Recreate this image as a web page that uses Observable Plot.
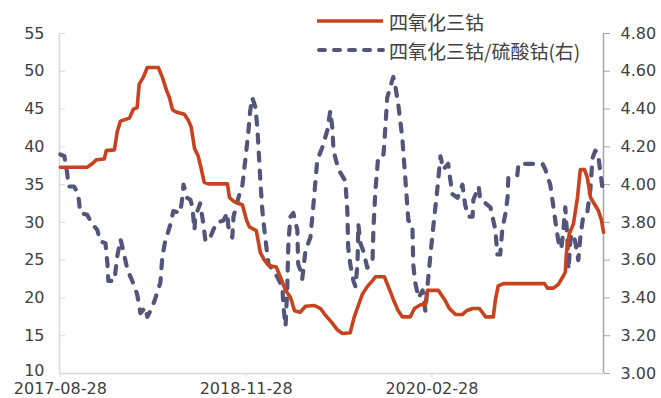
<!DOCTYPE html>
<html>
<head>
<meta charset="utf-8">
<script src="https://cdn.jsdelivr.net/npm/d3@7"></script>
<script src="https://cdn.jsdelivr.net/npm/@observablehq/plot@0.6"></script>
<style>
  html, body { margin: 0; padding: 0; background: #fff; }
  #wrap { position: relative; width: 661px; height: 398px; }
  #legend { position: absolute; left: 0; top: 0; pointer-events: none; }
  #legend text { font-family: "Noto Sans CJK SC", sans-serif; font-size: 19px; fill: #404040; }
</style>
</head>
<body>
<div id="wrap">
  <div id="chart"></div>
  <svg id="legend" width="661" height="398">
    <line x1="317" x2="383" y1="21" y2="21" stroke="#c8421e" stroke-width="3.5"/>
    <text x="389" y="21" dominant-baseline="central">四氧化三钴</text>
    <line x1="319" x2="383" y1="50" y2="50" stroke="#55547a" stroke-width="4" stroke-dasharray="6,9" stroke-linecap="round"/>
    <text x="389" y="50" dominant-baseline="central">四氧化三钴/硫酸钴(右)</text>
  </svg>
</div>
<script>
// 四氧化三钴 (left axis)
const redDates = ["2017-08-28","2017-11-02","2017-11-15","2017-11-25","2017-12-14","2017-12-19","2018-01-08","2018-01-15","2018-01-23","2018-02-14","2018-02-24","2018-03-05","2018-03-10","2018-03-20","2018-03-30","2018-04-26","2018-05-06","2018-05-16","2018-05-23","2018-05-31","2018-06-09","2018-06-29","2018-07-09","2018-07-16","2018-07-24","2018-08-02","2018-08-10","2018-08-17","2018-08-27","2018-10-13","2018-10-18","2018-10-28","2018-11-19","2018-11-29","2018-12-06","2018-12-23","2019-01-02","2019-01-12","2019-01-22","2019-02-10","2019-02-20","2019-03-05","2019-03-17","2019-03-27","2019-04-10","2019-04-23","2019-05-15","2019-05-30","2019-06-11","2019-06-26","2019-07-10","2019-07-23","2019-08-11","2019-08-21","2019-08-31","2019-09-10","2019-09-22","2019-10-05","2019-10-12","2019-11-03","2019-11-15","2019-11-25","2019-12-07","2019-12-17","2020-01-06","2020-01-16","2020-01-31","2020-02-12","2020-02-17","2020-03-15","2020-03-30","2020-04-11","2020-04-26","2020-05-13","2020-05-23","2020-06-07","2020-06-24","2020-07-09","2020-07-28","2020-08-02","2020-08-09","2020-08-22","2020-12-01","2020-12-08","2020-12-23","2021-01-04","2021-01-14","2021-01-21","2021-01-24","2021-01-31","2021-02-10","2021-02-20","2021-02-27","2021-03-09","2021-03-16","2021-03-24","2021-04-03","2021-04-12","2021-04-20","2021-04-25"];
const redValues = [37.3,37.3,37.8,38.3,38.4,39.5,39.6,42.0,43.4,43.8,45.0,45.2,48.3,49.2,50.5,50.5,49.2,47.5,46.6,44.9,44.6,44.3,43.5,42.6,39.8,38.8,37.0,35.3,35.1,35.1,33.3,32.8,32.3,30.3,29.4,28.9,26.0,25.0,24.3,24.1,22.8,21.0,20.1,18.3,18.1,18.9,19.0,18.6,17.7,16.8,15.8,15.3,15.4,17.5,19.0,20.5,21.5,22.3,22.8,22.8,21.2,19.8,18.3,17.5,17.5,18.6,19.1,19.1,21.0,21.0,19.8,18.6,17.8,17.8,18.3,18.6,18.6,17.5,17.5,19.7,21.6,21.9,21.9,21.3,21.3,21.8,22.7,23.4,26.0,28.5,29.8,33.3,37.0,37.0,36.0,33.3,32.4,31.6,30.3,28.7];

// 四氧化三钴/硫酸钴 (right axis)
const blueDates = ["2017-08-28","2017-09-07","2017-09-14","2017-09-17","2017-10-01","2017-10-11","2017-10-16","2017-11-02","2017-11-15","2017-11-27","2017-12-04","2017-12-17","2017-12-22","2017-12-24","2018-01-08","2018-01-15","2018-01-23","2018-01-30","2018-02-09","2018-02-21","2018-03-05","2018-03-13","2018-03-25","2018-03-30","2018-04-11","2018-04-19","2018-05-01","2018-05-06","2018-05-13","2018-05-26","2018-06-02","2018-06-19","2018-06-24","2018-06-27","2018-07-06","2018-07-14","2018-07-19","2018-07-24","2018-07-26","2018-08-07","2018-08-15","2018-08-20","2018-09-01","2018-09-08","2018-09-18","2018-10-03","2018-10-13","2018-10-15","2018-10-25","2018-10-28","2018-11-09","2018-11-19","2018-11-26","2018-12-04","2018-12-08","2018-12-13","2018-12-21","2018-12-26","2019-01-02","2019-01-07","2019-01-14","2019-01-22","2019-02-01","2019-02-13","2019-02-25","2019-02-28","2019-03-05","2019-03-09","2019-03-12","2019-03-17","2019-03-24","2019-04-03","2019-04-05","2019-04-10","2019-04-15","2019-04-23","2019-05-05","2019-05-12","2019-05-22","2019-06-04","2019-06-16","2019-06-23","2019-06-28","2019-07-01","2019-07-13","2019-07-30","2019-08-04","2019-08-06","2019-08-11","2019-08-19","2019-08-24","2019-08-29","2019-08-31","2019-09-05","2019-09-12","2019-09-22","2019-10-05","2019-10-07","2019-10-12","2019-10-19","2019-11-01","2019-11-06","2019-11-10","2019-11-18","2019-11-25","2019-11-30","2019-12-07","2019-12-17","2019-12-25","2020-01-01","2020-01-11","2020-01-13","2020-01-18","2020-01-26","2020-02-05","2020-02-12","2020-02-17","2020-02-24","2020-03-03","2020-03-12","2020-03-20","2020-03-27","2020-04-08","2020-04-18","2020-05-01","2020-05-13","2020-05-20","2020-05-28","2020-06-07","2020-06-09","2020-06-22","2020-06-26","2020-07-04","2020-07-21","2020-07-26","2020-08-02","2020-08-07","2020-08-14","2020-08-19","2020-08-27","2020-09-01","2020-09-03","2020-09-25","2020-09-28","2020-11-26","2020-12-03","2020-12-15","2020-12-23","2020-12-28","2021-01-04","2021-01-11","2021-01-16","2021-01-21","2021-01-26","2021-01-29","2021-02-03","2021-02-10","2021-02-15","2021-02-22","2021-02-27","2021-03-06","2021-03-16","2021-03-24","2021-03-29","2021-04-05","2021-04-12","2021-04-17","2021-04-22","2021-04-25"];
const blueValues = [4.16,4.15,4.06,3.99,3.99,3.95,3.85,3.84,3.79,3.76,3.70,3.69,3.58,3.49,3.49,3.62,3.71,3.65,3.55,3.49,3.42,3.32,3.35,3.30,3.35,3.40,3.48,3.62,3.70,3.79,3.86,3.85,3.93,4.00,3.93,3.92,3.88,3.76,3.83,3.90,3.79,3.70,3.72,3.76,3.80,3.81,3.85,3.78,3.72,3.83,3.93,4.00,4.13,4.29,4.39,4.46,4.41,4.29,4.02,3.86,3.72,3.58,3.55,3.51,3.46,3.35,3.25,3.44,3.69,3.83,3.85,3.76,3.58,3.55,3.50,3.65,3.72,3.88,4.13,4.20,4.29,4.39,4.30,4.18,4.08,4.02,3.86,3.67,3.58,3.49,3.46,3.58,3.79,3.69,3.65,3.56,3.60,3.76,3.97,4.15,4.16,4.32,4.46,4.52,4.57,4.52,4.43,4.25,4.02,3.81,3.79,3.58,3.48,3.40,3.44,3.33,3.46,3.62,3.79,3.97,4.15,4.08,4.11,3.95,3.93,4.00,3.89,3.83,3.83,3.92,3.99,3.92,3.91,3.88,3.83,3.76,3.63,3.63,3.76,3.85,3.93,4.04,4.05,4.11,4.11,4.08,4.00,3.88,3.80,3.70,3.66,3.75,3.88,3.72,3.55,3.72,3.74,3.69,3.60,3.72,3.83,3.85,3.98,4.14,4.18,4.16,4.07,3.99,4.02];

// Tick labels
const xTickLabels = ["2017-08-28", "2018-11-28", "2020-02-28"];
const leftTicks = [10, 15, 20, 25, 30, 35, 40, 45, 50, 55];
const rightTicks = [3.0, 3.2, 3.4, 3.6, 3.8, 4.0, 4.2, 4.4, 4.6, 4.8];

const leftDomain = [10, 55];
const rightDomain = [3.0, 4.8];
const toLeft = v => leftDomain[0] + (v - rightDomain[0]) * (leftDomain[1] - leftDomain[0]) / (rightDomain[1] - rightDomain[0]);
const fromLeft = t => rightDomain[0] + (t - leftDomain[0]) * (rightDomain[1] - rightDomain[0]) / (leftDomain[1] - leftDomain[0]);

const parse = d3.utcParse("%Y-%m-%d");
const red = redDates.map((d, i) => ({date: parse(d), v: redValues[i]}));
const blue = blueDates.map((d, i) => ({date: parse(d), v: blueValues[i]}));
const xTicks = xTickLabels.map(parse);
const xDomain = [parse("2017-08-26"), parse("2021-04-25")];

const chart = Plot.plot({
  width: 661,
  height: 398,
  marginLeft: 59,
  marginRight: 58,
  marginTop: 33,
  marginBottom: 25,
  style: {fontFamily: "DejaVu Sans", fontSize: "16px", color: "#404040", background: "white", overflow: "visible"},
  x: {type: "utc", domain: xDomain},
  y: {domain: leftDomain},
  marks: [
    Plot.ruleY([leftDomain[0]], {stroke: "#d9d9d9", strokeWidth: 1.5}),
    Plot.ruleX([xDomain[0]], {stroke: "#d9d9d9", strokeWidth: 1.5}),
    Plot.ruleX([xDomain[1]], {stroke: "#a6a6a6", strokeWidth: 1.5}),
    Plot.axisX(xTicks, {anchor: "bottom", tickSize: 4, tickPadding: 5.5, stroke: "#d9d9d9", fill: "#404040", tickFormat: d3.utcFormat("%Y-%m-%d"), label: null}),
    Plot.axisY(leftTicks.slice(1), {anchor: "left", tickSize: 0, tickPadding: 15, fill: "#404040", label: null}),
    Plot.axisY(leftTicks.slice(0, 1), {anchor: "left", tickSize: 0, tickPadding: 15, dy: -2.5, fill: "#404040", label: null}),
    Plot.axisY(leftTicks, {anchor: "right", frameAnchor: "left", tickSize: 5, fill: "none", stroke: "#d9d9d9", label: null}),
    Plot.axisY(rightTicks.map(toLeft), {anchor: "right", tickSize: 6, tickPadding: 11, stroke: "#a6a6a6", fill: "#404040", tickFormat: t => fromLeft(t).toFixed(2), label: null}),
    Plot.line(blue, {x: "date", y: d => toLeft(d.v), stroke: "#55547a", strokeWidth: 4.2, strokeDasharray: "8,10", strokeLinecap: "round"}),
    Plot.line(red, {x: "date", y: "v", stroke: "#c8421e", strokeWidth: 3.6})
  ]
});
document.getElementById("chart").appendChild(chart);
</script>
</body>
</html>
